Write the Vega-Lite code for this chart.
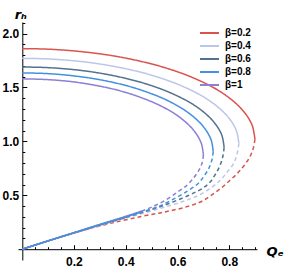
{
"$schema": "https://vega.github.io/schema/vega-lite/v6.json",
"width": 239, "height": 238,
"autosize": "none",
"padding": {"left": 18, "top": 22, "right": 27, "bottom": 9},
"background": "white",
"config": {"view": {"stroke": null}, "font": "Liberation Sans"},
"data": {"values": [
{"b":"β=0.2","s":"u","i":0,"Q":0,"r":1.86},{"b":"β=0.2","s":"u","i":1,"Q":0.09,"r":1.856},{"b":"β=0.2","s":"u","i":2,"Q":0.18,"r":1.843},{"b":"β=0.2","s":"u","i":3,"Q":0.27,"r":1.821},{"b":"β=0.2","s":"u","i":4,"Q":0.36,"r":1.79},{"b":"β=0.2","s":"u","i":5,"Q":0.4495,"r":1.747},{"b":"β=0.2","s":"u","i":6,"Q":0.5394,"r":1.692},{"b":"β=0.2","s":"u","i":7,"Q":0.6293,"r":1.62},{"b":"β=0.2","s":"u","i":8,"Q":0.6743,"r":1.575},{"b":"β=0.2","s":"u","i":9,"Q":0.7192,"r":1.524},{"b":"β=0.2","s":"u","i":10,"Q":0.7642,"r":1.463},{"b":"β=0.2","s":"u","i":11,"Q":0.8091,"r":1.386},{"b":"β=0.2","s":"u","i":12,"Q":0.8451,"r":1.306},{"b":"β=0.2","s":"u","i":13,"Q":0.872,"r":1.224},{"b":"β=0.2","s":"u","i":14,"Q":0.89,"r":1.138},{"b":"β=0.2","s":"u","i":15,"Q":0.899,"r":1.02},
{"b":"β=0.2","s":"d","i":0,"Q":0.899,"r":1.02},{"b":"β=0.2","s":"d","i":1,"Q":0.893,"r":0.94},{"b":"β=0.2","s":"d","i":2,"Q":0.878,"r":0.85},{"b":"β=0.2","s":"d","i":3,"Q":0.855,"r":0.77},{"b":"β=0.2","s":"d","i":4,"Q":0.83,"r":0.7},{"b":"β=0.2","s":"d","i":5,"Q":0.803,"r":0.64},{"b":"β=0.2","s":"d","i":6,"Q":0.77,"r":0.57},{"b":"β=0.2","s":"d","i":7,"Q":0.73,"r":0.5},{"b":"β=0.2","s":"d","i":8,"Q":0.69,"r":0.44},{"b":"β=0.2","s":"d","i":9,"Q":0.63,"r":0.39},{"b":"β=0.2","s":"d","i":10,"Q":0.55,"r":0.345},{"b":"β=0.2","s":"d","i":11,"Q":0.463,"r":0.305},{"b":"β=0.2","s":"d","i":12,"Q":0.35,"r":0.245},{"b":"β=0.2","s":"d","i":13,"Q":0.27,"r":0.198},
{"b":"β=0.2","s":"l","i":0,"Q":0.27,"r":0.198},{"b":"β=0.2","s":"l","i":1,"Q":0.2,"r":0.15},{"b":"β=0.2","s":"l","i":2,"Q":0.1,"r":0.077},{"b":"β=0.2","s":"l","i":3,"Q":0,"r":0},

{"b":"β=0.4","s":"u","i":0,"Q":0,"r":1.77},{"b":"β=0.4","s":"u","i":1,"Q":0.0837,"r":1.766},{"b":"β=0.4","s":"u","i":2,"Q":0.1674,"r":1.754},{"b":"β=0.4","s":"u","i":3,"Q":0.2511,"r":1.734},{"b":"β=0.4","s":"u","i":4,"Q":0.3348,"r":1.704},{"b":"β=0.4","s":"u","i":5,"Q":0.4185,"r":1.664},{"b":"β=0.4","s":"u","i":6,"Q":0.5022,"r":1.612},{"b":"β=0.4","s":"u","i":7,"Q":0.5859,"r":1.544},{"b":"β=0.4","s":"u","i":8,"Q":0.6278,"r":1.502},{"b":"β=0.4","s":"u","i":9,"Q":0.6696,"r":1.454},{"b":"β=0.4","s":"u","i":10,"Q":0.7115,"r":1.396},{"b":"β=0.4","s":"u","i":11,"Q":0.7533,"r":1.324},{"b":"β=0.4","s":"u","i":12,"Q":0.7868,"r":1.249},{"b":"β=0.4","s":"u","i":13,"Q":0.8119,"r":1.172},{"b":"β=0.4","s":"u","i":14,"Q":0.8286,"r":1.091},{"b":"β=0.4","s":"u","i":15,"Q":0.837,"r":0.98},
{"b":"β=0.4","s":"d","i":0,"Q":0.837,"r":0.98},{"b":"β=0.4","s":"d","i":1,"Q":0.83,"r":0.88},{"b":"β=0.4","s":"d","i":2,"Q":0.815,"r":0.79},{"b":"β=0.4","s":"d","i":3,"Q":0.79,"r":0.71},{"b":"β=0.4","s":"d","i":4,"Q":0.765,"r":0.64},{"b":"β=0.4","s":"d","i":5,"Q":0.73,"r":0.57},{"b":"β=0.4","s":"d","i":6,"Q":0.682,"r":0.5},{"b":"β=0.4","s":"d","i":7,"Q":0.63,"r":0.45},{"b":"β=0.4","s":"d","i":8,"Q":0.55,"r":0.39},{"b":"β=0.4","s":"d","i":9,"Q":0.463,"r":0.33},{"b":"β=0.4","s":"d","i":10,"Q":0.4,"r":0.29},{"b":"β=0.4","s":"d","i":11,"Q":0.35,"r":0.257},
{"b":"β=0.4","s":"l","i":0,"Q":0.35,"r":0.257},{"b":"β=0.4","s":"l","i":1,"Q":0.3,"r":0.222},{"b":"β=0.4","s":"l","i":2,"Q":0.2,"r":0.151},{"b":"β=0.4","s":"l","i":3,"Q":0.1,"r":0.077},{"b":"β=0.4","s":"l","i":4,"Q":0,"r":0},

{"b":"β=0.6","s":"u","i":0,"Q":0,"r":1.69},{"b":"β=0.6","s":"u","i":1,"Q":0.078,"r":1.686},{"b":"β=0.6","s":"u","i":2,"Q":0.156,"r":1.675},{"b":"β=0.6","s":"u","i":3,"Q":0.234,"r":1.656},{"b":"β=0.6","s":"u","i":4,"Q":0.312,"r":1.628},{"b":"β=0.6","s":"u","i":5,"Q":0.39,"r":1.59},{"b":"β=0.6","s":"u","i":6,"Q":0.468,"r":1.541},{"b":"β=0.6","s":"u","i":7,"Q":0.546,"r":1.477},{"b":"β=0.6","s":"u","i":8,"Q":0.585,"r":1.437},{"b":"β=0.6","s":"u","i":9,"Q":0.624,"r":1.392},{"b":"β=0.6","s":"u","i":10,"Q":0.663,"r":1.338},{"b":"β=0.6","s":"u","i":11,"Q":0.702,"r":1.27},{"b":"β=0.6","s":"u","i":12,"Q":0.7332,"r":1.199},{"b":"β=0.6","s":"u","i":13,"Q":0.7566,"r":1.126},{"b":"β=0.6","s":"u","i":14,"Q":0.7722,"r":1.05},{"b":"β=0.6","s":"u","i":15,"Q":0.78,"r":0.945},
{"b":"β=0.6","s":"d","i":0,"Q":0.78,"r":0.945},{"b":"β=0.6","s":"d","i":1,"Q":0.775,"r":0.86},{"b":"β=0.6","s":"d","i":2,"Q":0.763,"r":0.77},{"b":"β=0.6","s":"d","i":3,"Q":0.745,"r":0.69},{"b":"β=0.6","s":"d","i":4,"Q":0.725,"r":0.62},{"b":"β=0.6","s":"d","i":5,"Q":0.7,"r":0.57},{"b":"β=0.6","s":"d","i":6,"Q":0.644,"r":0.5},{"b":"β=0.6","s":"d","i":7,"Q":0.54,"r":0.4},{"b":"β=0.6","s":"d","i":8,"Q":0.463,"r":0.34},{"b":"β=0.6","s":"d","i":9,"Q":0.4,"r":0.295},
{"b":"β=0.6","s":"l","i":0,"Q":0.4,"r":0.295},{"b":"β=0.6","s":"l","i":1,"Q":0.3,"r":0.225},{"b":"β=0.6","s":"l","i":2,"Q":0.2,"r":0.152},{"b":"β=0.6","s":"l","i":3,"Q":0.1,"r":0.077},{"b":"β=0.6","s":"l","i":4,"Q":0,"r":0},

{"b":"β=1","s":"u","i":0,"Q":0,"r":1.58},{"b":"β=1","s":"u","i":1,"Q":0.07,"r":1.576},{"b":"β=1","s":"u","i":2,"Q":0.14,"r":1.566},{"b":"β=1","s":"u","i":3,"Q":0.21,"r":1.548},{"b":"β=1","s":"u","i":4,"Q":0.28,"r":1.521},{"b":"β=1","s":"u","i":5,"Q":0.35,"r":1.486},{"b":"β=1","s":"u","i":6,"Q":0.42,"r":1.439},{"b":"β=1","s":"u","i":7,"Q":0.49,"r":1.378},{"b":"β=1","s":"u","i":8,"Q":0.525,"r":1.341},{"b":"β=1","s":"u","i":9,"Q":0.56,"r":1.298},{"b":"β=1","s":"u","i":10,"Q":0.595,"r":1.247},{"b":"β=1","s":"u","i":11,"Q":0.63,"r":1.182},{"b":"β=1","s":"u","i":12,"Q":0.658,"r":1.115},{"b":"β=1","s":"u","i":13,"Q":0.679,"r":1.046},{"b":"β=1","s":"u","i":14,"Q":0.693,"r":0.974},{"b":"β=1","s":"u","i":15,"Q":0.7,"r":0.875},
{"b":"β=1","s":"d","i":0,"Q":0.7,"r":0.875},{"b":"β=1","s":"d","i":1,"Q":0.695,"r":0.8},{"b":"β=1","s":"d","i":2,"Q":0.682,"r":0.73},{"b":"β=1","s":"d","i":3,"Q":0.662,"r":0.66},{"b":"β=1","s":"d","i":4,"Q":0.635,"r":0.59},{"b":"β=1","s":"d","i":5,"Q":0.6,"r":0.53},{"b":"β=1","s":"d","i":6,"Q":0.55,"r":0.45},{"b":"β=1","s":"d","i":7,"Q":0.5,"r":0.39},{"b":"β=1","s":"d","i":8,"Q":0.463,"r":0.355},
{"b":"β=1","s":"l","i":0,"Q":0.463,"r":0.355},{"b":"β=1","s":"l","i":1,"Q":0.4,"r":0.305},{"b":"β=1","s":"l","i":2,"Q":0.3,"r":0.23},{"b":"β=1","s":"l","i":3,"Q":0.2,"r":0.153},{"b":"β=1","s":"l","i":4,"Q":0.1,"r":0.077},{"b":"β=1","s":"l","i":5,"Q":0,"r":0},

{"b":"β=0.8","s":"u","i":0,"Q":0,"r":1.635},{"b":"β=0.8","s":"u","i":1,"Q":0.0738,"r":1.631},{"b":"β=0.8","s":"u","i":2,"Q":0.1476,"r":1.62},{"b":"β=0.8","s":"u","i":3,"Q":0.2214,"r":1.601},{"b":"β=0.8","s":"u","i":4,"Q":0.2952,"r":1.574},{"b":"β=0.8","s":"u","i":5,"Q":0.369,"r":1.537},{"b":"β=0.8","s":"u","i":6,"Q":0.4428,"r":1.489},{"b":"β=0.8","s":"u","i":7,"Q":0.5166,"r":1.426},{"b":"β=0.8","s":"u","i":8,"Q":0.5535,"r":1.388},{"b":"β=0.8","s":"u","i":9,"Q":0.5904,"r":1.343},{"b":"β=0.8","s":"u","i":10,"Q":0.6273,"r":1.29},{"b":"β=0.8","s":"u","i":11,"Q":0.6642,"r":1.223},{"b":"β=0.8","s":"u","i":12,"Q":0.6937,"r":1.154},{"b":"β=0.8","s":"u","i":13,"Q":0.7159,"r":1.082},{"b":"β=0.8","s":"u","i":14,"Q":0.7306,"r":1.008},{"b":"β=0.8","s":"u","i":15,"Q":0.738,"r":0.905},
{"b":"β=0.8","s":"d","i":0,"Q":0.738,"r":0.905},{"b":"β=0.8","s":"d","i":1,"Q":0.733,"r":0.83},{"b":"β=0.8","s":"d","i":2,"Q":0.721,"r":0.75},{"b":"β=0.8","s":"d","i":3,"Q":0.703,"r":0.68},{"b":"β=0.8","s":"d","i":4,"Q":0.68,"r":0.61},{"b":"β=0.8","s":"d","i":5,"Q":0.645,"r":0.55},{"b":"β=0.8","s":"d","i":6,"Q":0.611,"r":0.5},{"b":"β=0.8","s":"d","i":7,"Q":0.53,"r":0.4},{"b":"β=0.8","s":"d","i":8,"Q":0.463,"r":0.345},
{"b":"β=0.8","s":"l","i":0,"Q":0.463,"r":0.345},{"b":"β=0.8","s":"l","i":1,"Q":0.4,"r":0.3},{"b":"β=0.8","s":"l","i":2,"Q":0.3,"r":0.228},{"b":"β=0.8","s":"l","i":3,"Q":0.2,"r":0.153},{"b":"β=0.8","s":"l","i":4,"Q":0.1,"r":0.077},{"b":"β=0.8","s":"l","i":5,"Q":0,"r":0}
]},
"mark": {"type": "line", "strokeWidth": 1.5, "interpolate": "catmull-rom"},
"encoding": {
 "x": {"field": "Q", "type": "quantitative",
  "scale": {"domain": [-0.016, 0.907], "nice": false, "zero": false},
  "axis": {"orient": "bottom", "offset": -10.8, "grid": false,
   "values": [0.05,0.1,0.15,0.2,0.25,0.3,0.35,0.4,0.45,0.5,0.55,0.6,0.65,0.7,0.75,0.8,0.85,0.9],
   "labelExpr": "abs(datum.value*5-round(datum.value*5))<0.001 ? format(datum.value,'.1f') : ''",
   "tickSize": {"condition": {"test": "abs(datum.value*5-round(datum.value*5))<0.001", "value": -4.5}, "value": -2.5},
   "domainColor": "black", "domainWidth": 1, "tickColor": "black", "tickWidth": 1,
   "labelFont": "Liberation Sans", "labelFontWeight": "bold", "labelFontSize": 12, "labelColor": "black",
   "labelPadding": 11.5, "labelFlush": false, "labelOverlap": false,
   "title": "Qₑ", "titleX": 248, "titleY": 2.5, "titleAlign": "left", "titleBaseline": "middle", "titleAngle": 0,
   "titleFont": "DejaVu Sans", "titleFontSize": 13, "titleFontStyle": "italic", "titleFontWeight": "bold", "titleColor": "black"}},
 "y": {"field": "r", "type": "quantitative",
  "scale": {"domain": [-0.1, 2.107], "nice": false, "zero": false},
  "axis": {"orient": "left", "offset": -4.3, "grid": false,
   "values": [0.1,0.2,0.3,0.4,0.5,0.6,0.7,0.8,0.9,1.0,1.1,1.2,1.3,1.4,1.5,1.6,1.7,1.8,1.9,2.0,2.1],
   "labelExpr": "abs(datum.value*2-round(datum.value*2))<0.001 ? format(datum.value,'.1f') : ''",
   "tickSize": {"condition": {"test": "abs(datum.value*2-round(datum.value*2))<0.001", "value": -4.5}, "value": -2.5},
   "domainColor": "black", "domainWidth": 1, "tickColor": "black", "tickWidth": 1,
   "labelFont": "Liberation Sans", "labelFontWeight": "bold", "labelFontSize": 12, "labelColor": "black",
   "labelPadding": 8, "labelFlush": false, "labelOverlap": false,
   "title": "rₕ", "titleX": -2, "titleY": -8, "titleAlign": "center", "titleBaseline": "middle", "titleAngle": 0,
   "titleFont": "DejaVu Sans", "titleFontSize": 13, "titleFontStyle": "italic", "titleFontWeight": "bold", "titleColor": "black"}},
 "color": {"field": "b", "type": "nominal",
  "scale": {"domain": ["β=0.2","β=0.4","β=0.6","β=0.8","β=1"], "range": ["#d9534f","#bcc6ea","#52728f","#4390e0","#8a80d4"]},
  "legend": {"orient": "none", "legendX": 185.5, "legendY": 5, "title": null, "padding": 0,
   "symbolType": "M-1.9,0L1.9,0", "symbolSize": 100, "symbolStrokeWidth": 2,
   "labelFont": "Liberation Sans", "labelFontWeight": "bold", "labelFontSize": 10, "labelColor": "black",
   "labelOffset": 9.5, "rowPadding": 2}},
 "strokeDash": {"field": "s", "type": "nominal",
  "scale": {"domain": ["u","d","l"], "range": [[1,0],[4,3],[1,0]]}, "legend": null},
 "order": {"field": "i", "type": "quantitative"}
}
}
